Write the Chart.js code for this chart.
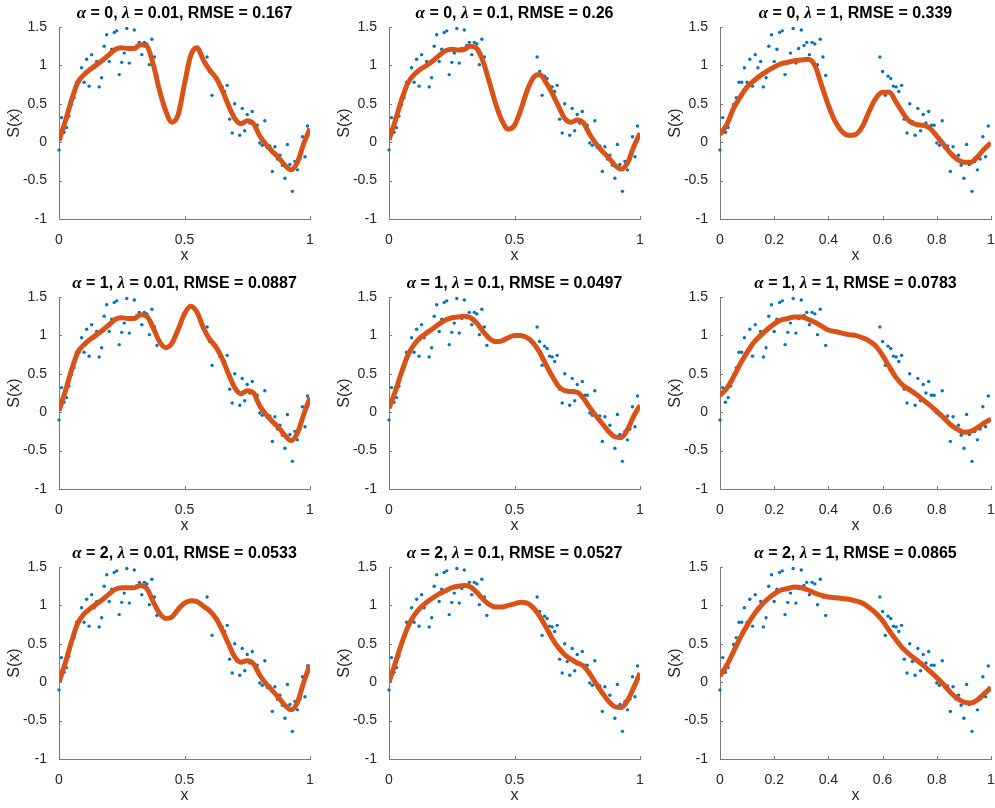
<!DOCTYPE html>
<html>
<head>
<meta charset="utf-8">
<script src="https://cdn.jsdelivr.net/npm/chart.js@4.4.1/dist/chart.umd.min.js"></script>
<style>
  html, body { margin: 0; padding: 0; background: #fff; }
  #fig { position: relative; width: 995px; height: 808px; overflow: hidden; }
  #fig canvas { position: absolute; }
</style>
</head>
<body>
<div id="fig"></div>
<script>
// ----- DATA -----

const alphas = [0, 1, 2];
const lambdas = [0.01, 0.1, 1];
const rmseA0 = [0.167, 0.26, 0.339];
const rmseA1 = [0.0887, 0.0497, 0.0783];
const rmseA2 = [0.0533, 0.0527, 0.0865];

// noisy samples (same in every panel)
const sampleX = [
  0.00, 0.01, 0.02, 0.03, 0.04, 0.05, 0.06, 0.07, 0.08, 0.09,
  0.10, 0.11, 0.12, 0.13, 0.14, 0.15, 0.16, 0.17, 0.18, 0.19,
  0.20, 0.21, 0.22, 0.23, 0.24, 0.25, 0.26, 0.27, 0.28, 0.29,
  0.30, 0.31, 0.32, 0.33, 0.34, 0.35, 0.36, 0.37, 0.38, 0.39,
  0.59, 0.60, 0.61, 0.62, 0.63, 0.64, 0.65, 0.66, 0.67, 0.68,
  0.69, 0.70, 0.71, 0.72, 0.73, 0.74, 0.75, 0.76, 0.77, 0.78,
  0.79, 0.80, 0.81, 0.82, 0.83, 0.84, 0.85, 0.86, 0.87, 0.88,
  0.89, 0.90, 0.91, 0.92, 0.93, 0.94, 0.95, 0.96, 0.97, 0.98, 0.99
];
const sampleY = [
  -0.10, 0.32, 0.13, 0.19, 0.34, 0.49, 0.58, 0.78, 0.78, 0.97,
  0.78, 1.08, 0.73, 1.14, 0.97, 1.05, 0.72, 0.84, 1.25, 1.40,
  1.05, 1.21, 1.43, 1.45, 0.88, 1.04, 1.16, 1.48, 1.03, 1.22,
  1.46, 1.26, 1.30, 1.14, 1.30, 1.28, 1.01, 1.34, 1.11, 0.87,
  1.11, 0.92, 0.61, 0.86, 0.83, 0.73, 0.72, 0.66, 0.74, 0.30,
  0.12, 0.50, 0.27, 0.09, 0.44, 0.15, 0.36, 0.25, 0.40, 0.22,
  0.22, -0.01, -0.04, 0.28, -0.07, -0.05, -0.38, -0.06, -0.22, -0.17,
  -0.30, -0.47, -0.03, -0.29, -0.64, -0.25, -0.36, -0.22, 0.07, -0.19, 0.21
];

// fitted curves, read at these x positions
const curveX = [
  0, 0.025, 0.05, 0.075, 0.1, 0.125, 0.15, 0.175, 0.2, 0.225,
  0.25, 0.275, 0.3, 0.325, 0.35, 0.375, 0.4, 0.425, 0.45, 0.475,
  0.5, 0.525, 0.55, 0.575, 0.6, 0.625, 0.65, 0.675, 0.7, 0.725,
  0.75, 0.775, 0.8, 0.825, 0.85, 0.875, 0.9, 0.925, 0.95, 0.975, 1
];
const fitA0L001 = [
  0.02, 0.27, 0.55, 0.78, 0.88, 0.95, 1.01, 1.07, 1.14, 1.21,
  1.23, 1.22, 1.22, 1.27, 1.25, 1.02, 0.68, 0.41, 0.26, 0.36,
  0.76, 1.13, 1.23, 1.07, 0.94, 0.84, 0.68, 0.48, 0.31, 0.24,
  0.28, 0.24, 0.08, -0.03, -0.12, -0.2, -0.3, -0.36, -0.26, -0.02, 0.18
];
const fitA0L01 = [
  0.03, 0.28, 0.55, 0.77, 0.88, 0.95, 1.0, 1.06, 1.13, 1.19,
  1.21, 1.2, 1.21, 1.25, 1.22, 1.05, 0.78, 0.5, 0.28, 0.17,
  0.22, 0.42, 0.67, 0.84, 0.88, 0.78, 0.64, 0.47, 0.31, 0.26,
  0.29, 0.25, 0.1, -0.02, -0.12, -0.2, -0.3, -0.35, -0.27, -0.06, 0.12
];
const fitA0L1 = [
  0.1, 0.23, 0.44, 0.59, 0.72, 0.8, 0.87, 0.93, 0.98, 1.02,
  1.04, 1.06, 1.07, 1.08, 1.0, 0.74, 0.48, 0.27, 0.14, 0.09,
  0.1, 0.2, 0.4, 0.57, 0.65, 0.65, 0.52, 0.38, 0.27, 0.23,
  0.22, 0.18, 0.08, -0.03, -0.14, -0.22, -0.26, -0.26, -0.19, -0.09, -0.01
];
const fitA1L001 = [
  0.02, 0.27, 0.55, 0.78, 0.88, 0.95, 1.01, 1.07, 1.14, 1.21,
  1.23, 1.22, 1.22, 1.27, 1.25, 1.1, 0.92, 0.84, 0.9, 1.08,
  1.28, 1.38, 1.3, 1.1, 0.95, 0.85, 0.7, 0.5, 0.32, 0.24,
  0.28, 0.25, 0.08, -0.03, -0.12, -0.2, -0.3, -0.37, -0.27, -0.03, 0.19
];
const fitA1L01 = [
  0.05, 0.27, 0.52, 0.74, 0.88, 0.97, 1.03, 1.09, 1.15, 1.2,
  1.23, 1.24, 1.25, 1.23, 1.16, 1.05, 0.96, 0.92, 0.93, 0.97,
  1.0, 1.0, 0.97, 0.9, 0.78, 0.62, 0.47, 0.34, 0.28, 0.27,
  0.26, 0.18, 0.06, -0.05, -0.15, -0.25, -0.32, -0.33, -0.23, -0.05, 0.09
];
const fitA1L1 = [
  0.22, 0.31, 0.46, 0.63, 0.78, 0.91, 1.0, 1.08, 1.15, 1.2,
  1.22, 1.24, 1.24, 1.21, 1.17, 1.12, 1.07, 1.05, 1.03, 1.01,
  1.0, 0.97, 0.93, 0.86, 0.74, 0.59, 0.45, 0.35, 0.29, 0.23,
  0.16, 0.09, 0.01, -0.07, -0.16, -0.22, -0.26, -0.25, -0.2, -0.14, -0.09
];
const fitA2L001 = [
  0.0, 0.25, 0.53, 0.77, 0.89, 0.96, 1.02, 1.08, 1.15, 1.21,
  1.23, 1.23, 1.23, 1.26, 1.22, 1.05, 0.9, 0.83, 0.85, 0.95,
  1.03, 1.06, 1.05, 0.99, 0.93, 0.83, 0.68, 0.5, 0.33, 0.26,
  0.28, 0.24, 0.09, -0.02, -0.11, -0.2, -0.3, -0.36, -0.26, 0.0, 0.23
];
const fitA2L01 = [
  0.0, 0.25, 0.5, 0.72, 0.87, 0.97, 1.04, 1.1, 1.15, 1.19,
  1.23, 1.25, 1.26, 1.24, 1.17, 1.08, 1.01, 0.98, 0.98, 1.0,
  1.02, 1.04, 1.03, 0.97, 0.86, 0.72, 0.57, 0.45, 0.36, 0.3,
  0.25, 0.21, 0.11, -0.02, -0.14, -0.25, -0.32, -0.33, -0.24, -0.07, 0.12
];
const fitA2L1 = [
  0.08, 0.22, 0.4, 0.58, 0.74, 0.88, 0.99, 1.08, 1.15, 1.2,
  1.22, 1.24, 1.23, 1.2, 1.16, 1.13, 1.11, 1.1, 1.09, 1.08,
  1.06, 1.03, 0.97, 0.9, 0.8, 0.67, 0.55, 0.44, 0.36, 0.29,
  0.22, 0.14, 0.06, -0.03, -0.13, -0.21, -0.26, -0.27, -0.23, -0.15, -0.07
];

// ticks
const xTicksCoarse = [0, 0.5, 1];
const xLabelsCoarse = ["0", "0.5", "1"];
const xTicksFine = [0, 0.2, 0.4, 0.6, 0.8, 1];
const xLabelsFine = ["0", "0.2", "0.4", "0.6", "0.8", "1"];
const yTicks = [-1, -0.5, 0, 0.5, 1, 1.5];
const yLabels = ["-1", "-0.5", "0", "0.5", "1", "1.5"];

// ----- LAYOUT -----

const colLeft = [59, 389, 720];
const colRight = [310, 640, 991];
const rowTop = [27, 297, 567];
const rowBottom = [219, 489, 759];
const yAxisWidth = 59;
const xAxisHeight = 48;
const topSpace = 27;

const FONT = "'Liberation Sans', Arial, Helvetica, sans-serif";
const textColor = "#262626";
const axisColor = "#7a7a7a";
const dotColor = "#0072BD";
const lineColor = "#D95319";

Chart.defaults.font.family = FONT;

// ----- PLUGINS -----

const inwardTicks = {
  id: "inwardTicks",
  afterDatasetsDraw(chart) {
    const { ctx, chartArea: a, scales } = chart;
    const len = 3;
    ctx.save();
    ctx.strokeStyle = axisColor;
    ctx.lineWidth = 1;
    ctx.beginPath();
    scales.x.ticks.forEach((t) => {
      const px = Math.round(scales.x.getPixelForValue(t.value)) + 0.5;
      ctx.moveTo(px, a.bottom);
      ctx.lineTo(px, a.bottom - len);
    });
    scales.y.ticks.forEach((t) => {
      const py = Math.round(scales.y.getPixelForValue(t.value)) + 0.5;
      ctx.moveTo(a.left, py);
      ctx.lineTo(a.left + len, py);
    });
    ctx.stroke();
    ctx.restore();
  },
};

// title centred over the plot area, greek letters in a serif face
const panelTitle = {
  id: "panelTitle",
  afterDraw(chart, args, opts) {
    const { ctx, chartArea: a } = chart;
    const parts = opts.parts;
    ctx.save();
    ctx.fillStyle = "#000";
    ctx.textBaseline = "middle";
    let total = 0;
    parts.forEach((p) => {
      ctx.font = p.font;
      total += ctx.measureText(p.text).width;
    });
    let x = (a.left + a.right) / 2 - total / 2;
    parts.forEach((p) => {
      ctx.font = p.font;
      ctx.fillText(p.text, x, a.top - 13.5);
      x += ctx.measureText(p.text).width;
    });
    ctx.restore();
  },
};

// ----- BUILD PANELS -----

const fits = [
  [fitA0L001, fitA0L01, fitA0L1],
  [fitA1L001, fitA1L01, fitA1L1],
  [fitA2L001, fitA2L01, fitA2L1],
];
const rmses = [rmseA0, rmseA1, rmseA2];

const fig = document.getElementById("fig");
const scatterPoints = sampleX.map((x, i) => ({ x: x, y: sampleY[i] }));

for (let r = 0; r < 3; r++) {
  for (let c = 0; c < 3; c++) {
    const canvas = document.createElement("canvas");
    const w = colRight[c] - colLeft[c] + yAxisWidth + 4;
    const h = rowBottom[r] - rowTop[r] + topSpace + xAxisHeight;
    canvas.width = w;
    canvas.height = h;
    canvas.style.left = colLeft[c] - yAxisWidth + "px";
    canvas.style.top = rowTop[r] - topSpace + "px";
    fig.appendChild(canvas);

    const xTicks = c === 2 ? xTicksFine : xTicksCoarse;
    const xLabels = c === 2 ? xLabelsFine : xLabelsCoarse;
    const fit = fits[r][c];

    const titleFont = "bold 16px " + FONT;
    const greekFont = "bold italic 17px 'Liberation Serif', serif";
    const parts = [
      { text: "\u03b1", font: greekFont },
      { text: " = " + alphas[r] + ", ", font: titleFont },
      { text: "\u03bb", font: greekFont },
      { text: " = " + lambdas[c] + ", RMSE = " + rmses[r][c], font: titleFont },
    ];

    new Chart(canvas, {
      type: "scatter",
      data: {
        datasets: [
          {
            data: curveX.map((x, i) => ({ x: x, y: fit[i] })),
            showLine: true,
            borderColor: lineColor,
            borderWidth: 5,
            borderJoinStyle: "round",
            pointRadius: 0,
            cubicInterpolationMode: "monotone",
            order: 0,
          },
          {
            data: scatterPoints,
            backgroundColor: dotColor,
            borderWidth: 0,
            pointRadius: 1.7,
            clip: false,
            order: 1,
          },
        ],
      },
      options: {
        responsive: false,
        animation: false,
        devicePixelRatio: 1,
        layout: { padding: { top: topSpace, right: 4, left: 0, bottom: 0 } },
        plugins: {
          legend: { display: false },
          tooltip: { enabled: false },
          panelTitle: { parts: parts },
        },
        scales: {
          x: {
            type: "linear",
            min: 0,
            max: 1,
            grid: { display: false },
            border: { display: true, color: axisColor, width: 1 },
            afterBuildTicks: (s) => {
              s.ticks = xTicks.map((v) => ({ value: v }));
            },
            afterFit: (s) => {
              s.height = xAxisHeight;
              s.paddingLeft = 0;
              s.paddingRight = 0;
            },
            ticks: {
              maxRotation: 0,
              autoSkip: false,
              padding: 5,
              color: textColor,
              font: { size: 14 },
              callback: (v, i) => xLabels[i],
            },
            title: {
              display: true,
              text: "x",
              color: textColor,
              font: { size: 16 },
              padding: { top: 0, bottom: 2 },
            },
          },
          y: {
            type: "linear",
            min: -1,
            max: 1.5,
            grid: { display: false },
            border: { display: true, color: axisColor, width: 1 },
            afterBuildTicks: (s) => {
              s.ticks = yTicks.map((v) => ({ value: v }));
            },
            afterFit: (s) => {
              s.width = yAxisWidth;
              s.paddingTop = 0;
              s.paddingBottom = 0;
            },
            ticks: {
              autoSkip: false,
              padding: 4,
              color: textColor,
              font: { size: 14 },
              callback: (v, i) => yLabels[i],
            },
            title: {
              display: true,
              text: "S(x)",
              color: textColor,
              font: { size: 16 },
              padding: { top: 5, bottom: 0 },
            },
          },
        },
      },
      plugins: [inwardTicks, panelTitle],
    });
  }
}
</script>
</body>
</html>
